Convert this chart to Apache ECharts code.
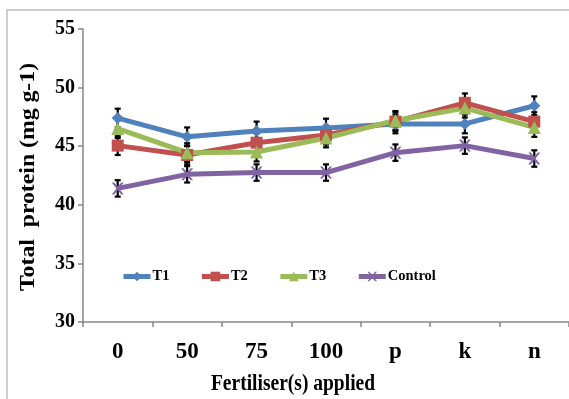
<!DOCTYPE html>
<html>
<head>
<meta charset="utf-8">
<script src="https://cdn.jsdelivr.net/npm/echarts@6/dist/echarts.min.js"></script>
<style>
  html, body { margin: 0; padding: 0; background: #ffffff; }
  #chart { width: 569px; height: 399px; }
</style>
</head>
<body>
<div id="chart"></div>
<script>
// Fertiliser treatments on the x axis
const categories = ['0', '50', '75', '100', 'p', 'k', 'n'];

// Total protein (mg g-1) per treatment
const t1 = [47.4, 45.8, 46.3, 46.55, 46.9, 46.9, 48.45];
const t2 = [45.05, 44.25, 45.3, 45.95, 47.1, 48.7, 47.1];
const t3 = [46.5, 44.45, 44.5, 45.7, 47.2, 48.25, 46.6];
const control = [41.4, 42.6, 42.75, 42.75, 44.45, 45.05, 43.95];

// Standard error for each point
const t1Err = [0.8, 0.8, 0.8, 0.8, 0.8, 0.8, 0.8];
const t2Err = [0.8, 0.8, 0.8, 0.8, 0.8, 0.8, 0.8];
const t3Err = [0.8, 0.8, 0.8, 0.8, 0.8, 0.8, 0.8];
const controlErr = [0.7, 0.7, 0.7, 0.7, 0.7, 0.7, 0.7];

const yTicks = { min: 30, max: 55, interval: 5 };

const FONT = '"Liberation Serif", "Times New Roman", serif';
const crossPath = 'path://M0,0 L2,0 L5,3.5 L8,0 L10,0 L6,5 L10,10 L8,10 L5,6.5 L2,10 L0,10 L4,5 Z';

const seriesDefs = [
  { name: 'T1', data: t1, err: t1Err, color: '#4F81BD', symbol: 'diamond', size: 12 },
  { name: 'T2', data: t2, err: t2Err, color: '#C0504D', symbol: 'rect', size: 12 },
  { name: 'T3', data: t3, err: t3Err, color: '#9BBB59', symbol: 'triangle', size: 13 },
  { name: 'Control', data: control, err: controlErr, color: '#8064A2', symbol: crossPath, size: 12 }
];

function errorBarSeries(def) {
  return {
    type: 'custom',
    name: def.name + ' error',
    z: 1,
    silent: true,
    data: def.data.map((v, i) => [i, v, def.err[i]]),
    renderItem: function (params, api) {
      const x = api.value(0);
      const v = api.value(1);
      const e = api.value(2);
      const hi = api.coord([x, v + e]);
      const lo = api.coord([x, v - e]);
      const cap = 3;
      const style = { stroke: '#000', lineWidth: 2.2 };
      return {
        type: 'group',
        children: [
          { type: 'line', shape: { x1: hi[0], y1: hi[1], x2: lo[0], y2: lo[1] }, style: style },
          { type: 'line', shape: { x1: hi[0] - cap, y1: hi[1], x2: hi[0] + cap, y2: hi[1] }, style: style },
          { type: 'line', shape: { x1: lo[0] - cap, y1: lo[1], x2: lo[0] + cap, y2: lo[1] }, style: style }
        ]
      };
    }
  };
}

const series = [];
seriesDefs.forEach(def => series.push(errorBarSeries(def)));
seriesDefs.forEach(def => series.push({
  type: 'line',
  name: def.name,
  z: 3,
  data: def.data,
  symbol: def.symbol,
  symbolSize: def.size,
  showAllSymbol: true,
  lineStyle: { color: def.color, width: 5 },
  itemStyle: { color: def.color },
  emphasis: { disabled: true }
}));

const chart = echarts.init(document.getElementById('chart'), null, { renderer: 'canvas' });
chart.setOption({
  animation: false,
  backgroundColor: '#ffffff',
  grid: { left: 83, right: -4, top: 29, bottom: 77, containLabel: false },
  legend: {
    data: seriesDefs.map(d => d.name),
    left: 121,
    top: 269,
    padding: 0,
    itemWidth: 27,
    itemHeight: 12,
    itemGap: 30,
    lineStyle: { width: 5 },
    textStyle: { fontFamily: FONT, fontWeight: 'bold', fontSize: 14.5, color: '#000', padding: [0, 0, 0, -3] }
  },
  xAxis: {
    type: 'category',
    data: categories,
    boundaryGap: true,
    axisLine: { lineStyle: { color: '#868686', width: 1.5 } },
    axisTick: { show: true, length: 5, lineStyle: { color: '#868686', width: 1.5 } },
    axisLabel: { fontFamily: FONT, fontWeight: 'bold', fontSize: 23, color: '#000', margin: 19 }
  },
  yAxis: {
    type: 'value',
    min: yTicks.min,
    max: yTicks.max,
    interval: yTicks.interval,
    splitLine: { show: false },
    axisLine: { show: true, lineStyle: { color: '#868686', width: 1.5 } },
    axisTick: { show: true, length: 5, lineStyle: { color: '#868686', width: 1.5 } },
    axisLabel: { fontFamily: FONT, fontWeight: 'bold', fontSize: 20, color: '#000', margin: 8 }
  },
  graphic: [
    {
      type: 'rect',
      silent: true,
      z: -10,
      shape: { x: 7, y: 10, width: 700, height: 600 },
      style: { fill: 'none', stroke: '#bfbfbf', lineWidth: 1.5 }
    },
    {
      type: 'text',
      x: 293,
      y: 384,
      scaleY: 1.15,
      style: {
        text: 'Fertiliser(s) applied',
        font: 'bold 19.5px ' + FONT,
        fill: '#000',
        textAlign: 'center',
        textVerticalAlign: 'middle'
      }
    },
    {
      type: 'text',
      x: 29,
      y: 177,
      rotation: Math.PI / 2,
      scaleX: 1.13,
      style: {
        text: 'Total  protein (mg g-1)',
        font: 'bold 21px ' + FONT,
        fill: '#000',
        textAlign: 'center',
        textVerticalAlign: 'middle'
      }
    }
  ],
  series: series
});
</script>
</body>
</html>
